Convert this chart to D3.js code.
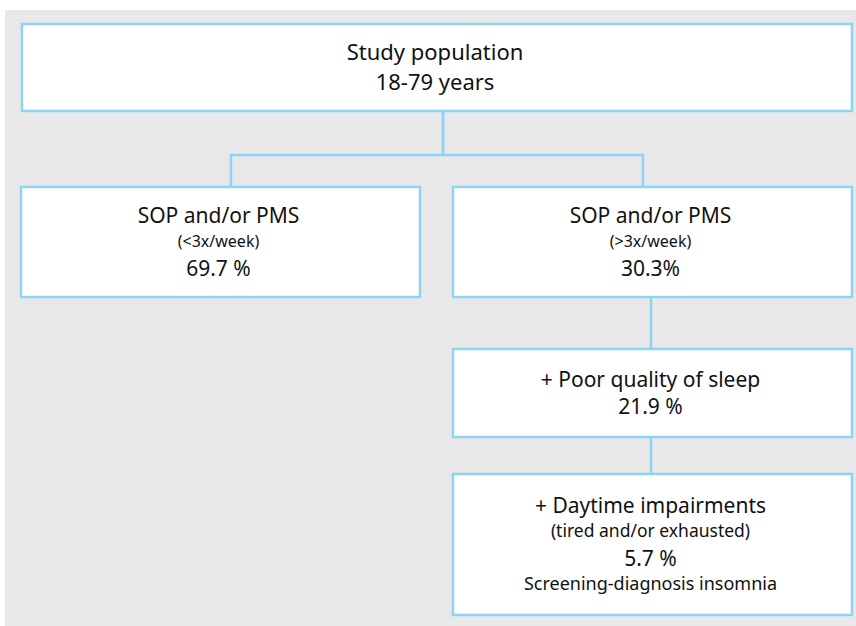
<!DOCTYPE html>
<html>
<head>
<meta charset="utf-8">
<script src="https://cdn.jsdelivr.net/npm/d3@7"></script>
<style>
  html, body { margin: 0; padding: 0; background: #fff; }
  svg { display: block; }
</style>
</head>
<body>
<div id="chart"></div>
<script>
// flowchart content
const nodeTitles = ["Study population", "SOP and/or PMS", "SOP and/or PMS", "+ Poor quality of sleep", "+ Daytime impairments"];
const nodeNotes = ["", "(<3x/week)", "(>3x/week)", "", "(tired and/or exhausted)"];
const nodeValues = ["18-79 years", "69.7 %", "30.3%", "21.9 %", "5.7 %"];
const nodeFooters = ["", "", "", "", "Screening-diagnosis insomnia"];
const links = [[0, 1], [0, 2], [2, 3], [3, 4]];

const width = 856, height = 626;
const blue = "#8dd3f6";

// box geometry (layout only)
const boxes = [
  { x0: 22, x1: 852, y0: 24, y1: 111 },
  { x0: 21, x1: 420, y0: 187, y1: 297 },
  { x0: 453, x1: 852, y0: 187, y1: 297 },
  { x0: 453, x1: 852, y0: 349, y1: 437 },
  { x0: 453, x1: 852, y0: 474, y1: 615 }
];
// where the connectors leave / enter each box
const portX = [443, 231, 643, 651, 651];
const outX = [443, 231, 651, 651, 651];

const nodes = nodeTitles.map((t, i) => ({
  title: t, note: nodeNotes[i], value: nodeValues[i], footer: nodeFooters[i], box: boxes[i]
}));

const svg = d3.select("#chart").append("svg")
  .attr("width", width)
  .attr("height", height)
  .style("font-family", "'Noto Sans', 'Open Sans', sans-serif");

svg.append("rect")
  .attr("x", 5).attr("y", 10)
  .attr("width", width - 5).attr("height", height - 10)
  .attr("fill", "#e8e8e8");

// connectors
const linkPath = ([a, b]) => {
  const pa = boxes[a], pb = boxes[b];
  const xa = outX[a], xb = portX[b];
  if (xa === xb) return `M${xa},${pa.y1}V${pb.y0}`;
  const ym = 155;
  return `M${xa},${pa.y1}V${ym}H${xb}V${pb.y0}`;
};

svg.append("g")
  .selectAll("path")
  .data(links)
  .join("path")
  .attr("d", linkPath)
  .attr("fill", "none")
  .attr("stroke", blue)
  .attr("stroke-width", 2.5);

const g = svg.append("g")
  .selectAll("g")
  .data(nodes)
  .join("g");

g.append("rect")
  .attr("x", d => d.box.x0)
  .attr("y", d => d.box.y0)
  .attr("width", d => d.box.x1 - d.box.x0)
  .attr("height", d => d.box.y1 - d.box.y0)
  .attr("fill", "#fff")
  .attr("stroke", blue)
  .attr("stroke-width", 2.5);

// text lines per box: [text, size, baseline offset from box top]
const lineSpec = (d, i) => {
  if (i === 0) return [[d.title, 22, 36], [d.value, 22, 66]];
  const out = [];
  let y = i === 3 ? 38 : i === 4 ? 39 : 36;
  out.push([d.title, 21, y]);
  if (d.note) { y += 24; out.push([d.note, i === 4 ? 17.5 : 16, y]); y += 29; }
  else y += 27;
  out.push([d.value, 21, y]);
  if (d.footer) out.push([d.footer, 18, y + 24]);
  return out;
};

g.each(function (d, i) {
  const cx = (d.box.x0 + d.box.x1) / 2 - 2;
  d3.select(this).selectAll("text")
    .data(lineSpec(d, i))
    .join("text")
    .attr("x", cx)
    .attr("y", l => d.box.y0 + l[2])
    .attr("text-anchor", "middle")
    .attr("fill", "#111")
    .style("font-size", l => l[1] + "px")
    .text(l => l[0]);
});
</script>
</body>
</html>
